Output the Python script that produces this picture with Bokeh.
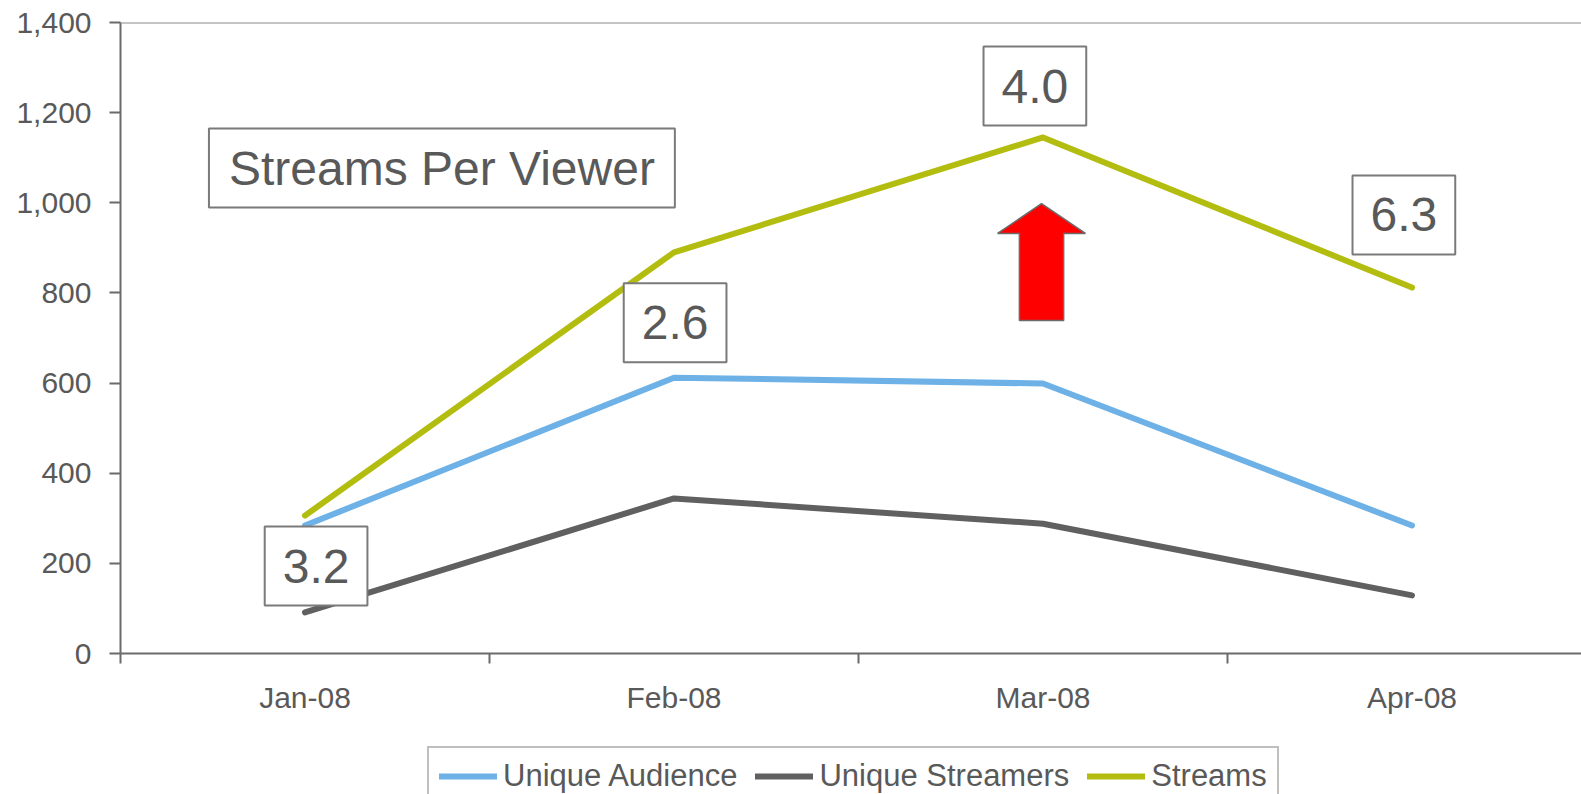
from bokeh.plotting import figure
from bokeh.layouts import column
from bokeh.models import (Range1d, FixedTicker, NumeralTickFormatter, Label, Span,
                          Legend, LegendItem, ColumnDataSource)
from bokeh.embed import file_html
from bokeh.resources import INLINE

# ---- data ----
months = ["Jan-08", "Feb-08", "Mar-08", "Apr-08"]
unique_audience = [284, 612, 599, 284]
unique_streamers = [91, 344, 288, 129]
streams = [306, 890, 1145, 812]
streams_per_viewer = ["3.2", "2.6", "4.0", "6.3"]
y_ticks = [0, 200, 400, 600, 800, 1000, 1200, 1400]
series_names = ["Unique Audience", "Unique Streamers", "Streams"]

# ---- annotation placement (data coords) ----
spv_pos_x = [0.03, 1.003, 1.978, 2.978]
spv_pos_y = [194, 734, 1259, 973]
title_pos = (0.371, 1077)
arrow_x = 1.996
arrow_tip, arrow_head_base, arrow_bottom = 998, 932, 739
arrow_head_half, arrow_shaft_half = 0.119, 0.06

FONT = "Liberation Sans"
TXT = "#595959"
AX = "#6b6b6b"
COLORS = ["#6DB1E6", "#606060", "#B3BD10"]
LW = 6

x = list(range(len(months)))
src = ColumnDataSource(dict(x=x, ua=unique_audience, us=unique_streamers, st=streams))

p = figure(width=1581, height=746, output_backend="svg", toolbar_location=None,
           x_range=Range1d(-0.5, -0.5 + 1461 / 369), y_range=Range1d(0, 1400),
           min_border_left=120, min_border_right=0, min_border_top=22, min_border_bottom=93)
p.outline_line_color = None
p.xgrid.visible = False
p.ygrid.visible = False
p.background_fill_color = "white"
p.border_fill_color = "white"

# y axis
p.yaxis.ticker = FixedTicker(ticks=y_ticks, minor_ticks=[])
p.yaxis.formatter = NumeralTickFormatter(format="0,0")
p.yaxis.axis_line_color = AX
p.yaxis.axis_line_width = 2
p.yaxis.major_tick_line_color = AX
p.yaxis.major_tick_line_width = 2
p.yaxis.major_tick_out = 11
p.yaxis.major_tick_in = 0
p.yaxis.major_label_standoff = 18
p.yaxis.major_label_text_font = FONT
p.yaxis.major_label_text_font_size = "30px"
p.yaxis.major_label_text_color = TXT

# x axis
p.xaxis.ticker = FixedTicker(ticks=x, minor_ticks=[i - 0.5 for i in range(len(months) + 1)])
p.xaxis.major_label_overrides = {i: m for i, m in enumerate(months)}
p.xaxis.axis_line_color = AX
p.xaxis.axis_line_width = 2
p.xaxis.major_tick_out = 0
p.xaxis.major_tick_in = 0
p.xaxis.major_tick_line_color = None
p.xaxis.minor_tick_out = 10
p.xaxis.minor_tick_in = 0
p.xaxis.minor_tick_line_color = AX
p.xaxis.minor_tick_line_width = 2
p.xaxis.major_label_standoff = 17
p.xaxis.major_label_text_font = FONT
p.xaxis.major_label_text_font_size = "30px"
p.xaxis.major_label_text_color = TXT

# top border
p.add_layout(Span(location=1400, dimension="width", line_color="#8a8a8a", line_width=2))

cols = ["ua", "us", "st"]
for c, col in zip(COLORS, cols):
    p.line("x", col, source=src, line_color=c, line_width=LW, line_cap="round", line_join="round")

# red arrow
ax = [arrow_x, arrow_x + arrow_head_half, arrow_x + arrow_shaft_half, arrow_x + arrow_shaft_half,
      arrow_x - arrow_shaft_half, arrow_x - arrow_shaft_half, arrow_x - arrow_head_half]
ay = [arrow_tip, arrow_head_base, arrow_head_base, arrow_bottom, arrow_bottom, arrow_head_base, arrow_head_base]
p.patch(ax, ay, fill_color="#FF0000", line_color="#6b6b6b", line_width=1.5)

p.add_layout(Label(x=title_pos[0], y=title_pos[1], text="Streams Per Viewer",
                   text_font=FONT, text_font_size="48px", text_color=TXT,
                   text_align="center", text_baseline="middle",
                   background_fill_color="white", border_line_color="#7a7a7a",
                   border_line_width=2, padding=dict(left=20, right=20, top=13, bottom=13)))
for sx, sy, t in zip(spv_pos_x, spv_pos_y, streams_per_viewer):
    p.add_layout(Label(x=sx, y=sy, text=t, text_font=FONT, text_font_size="48px",
                       text_color=TXT, text_align="center", text_baseline="middle",
                       background_fill_color="white", border_line_color="#7a7a7a",
                       border_line_width=2, padding=dict(left=18, right=18, top=23, bottom=23)))

# ---- legend strip (same series, ranges chosen so only the legend shows) ----
lg = figure(width=1581, height=48, output_backend="svg", toolbar_location=None,
            x_range=Range1d(100, 101), y_range=Range1d(-10, -9),
            x_axis_location=None, y_axis_location=None,
            min_border_left=0, min_border_right=0, min_border_top=0, min_border_bottom=0)
lg.outline_line_color = None
lg.xgrid.visible = False
lg.ygrid.visible = False
lg.background_fill_color = "white"
lg.border_fill_color = "white"
items = []
for c, col, name in zip(COLORS, cols, series_names):
    r = lg.line("x", col, source=src, line_color=c, line_width=LW, line_cap="round")
    items.append(LegendItem(label=name, renderers=[r]))

legend = Legend(items=items, orientation="horizontal", location=(307, -12),
                label_text_font=FONT, label_text_font_size="31px", label_text_color=TXT,
                glyph_width=58, glyph_height=20, label_standoff=6, spacing=18,
                padding=10, margin=0, border_line_color="#808080", border_line_width=2,
                background_fill_color="white", background_fill_alpha=1.0)
lg.add_layout(legend, "center")

open("out.html", "w").write(file_html(column(p, lg, spacing=0), INLINE))
